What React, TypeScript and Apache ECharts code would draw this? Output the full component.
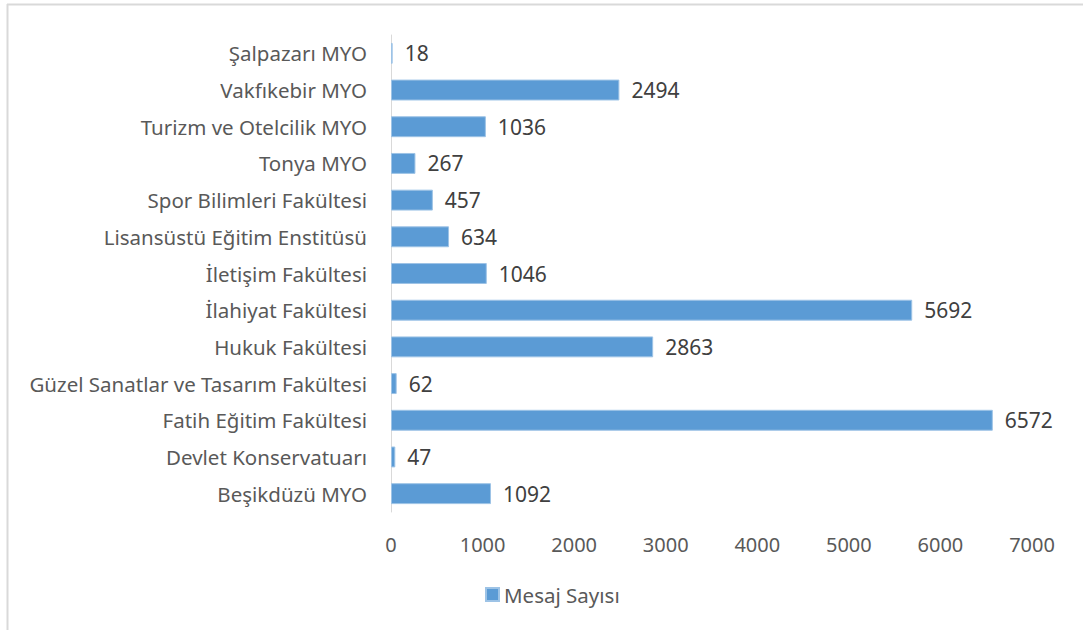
import React, { useEffect, useRef } from "react";
import * as echarts from "echarts";

const categories = [
  "Beşikdüzü MYO",
  "Devlet Konservatuarı",
  "Fatih Eğitim Fakültesi",
  "Güzel Sanatlar ve Tasarım Fakültesi",
  "Hukuk Fakültesi",
  "İlahiyat Fakültesi",
  "İletişim Fakültesi",
  "Lisansüstü Eğitim Enstitüsü",
  "Spor Bilimleri Fakültesi",
  "Tonya MYO",
  "Turizm ve Otelcilik MYO",
  "Vakfıkebir MYO",
  "Şalpazarı MYO",
];
const values = [1092, 47, 6572, 62, 2863, 5692, 1046, 634, 457, 267, 1036, 2494, 18];
const seriesName = "Mesaj Sayısı";

const FONT = "'Noto Sans', sans-serif";

export default function App() {
  const ref = useRef<HTMLDivElement>(null);
  useEffect(() => {
    document.body.style.margin = "0";
    const chart = echarts.init(ref.current!, null, { renderer: "svg" });
    chart.setOption({
      animation: false,
      backgroundColor: "#ffffff",
      textStyle: { fontFamily: FONT },
      graphic: [
        { type: "line", shape: { x1: 7.5, y1: 4, x2: 7.5, y2: 630 }, style: { stroke: "#d9d9d9", lineWidth: 2 } },
        { type: "line", shape: { x1: 7, y1: 4.5, x2: 1083, y2: 4.5 }, style: { stroke: "#d9d9d9", lineWidth: 2 } },
      ],
      legend: {
        bottom: 20,
        left: 480,
        itemWidth: 13,
        itemHeight: 13,
        itemGap: 10,
        icon: "rect",
        textStyle: { fontFamily: FONT, fontSize: 20.5, color: "#595959" },
        data: [seriesName],
      },
      grid: { left: 391, right: 51, top: 35, bottom: 118, containLabel: false },
      xAxis: {
        type: "value",
        min: 0,
        max: 7000,
        interval: 1000,
        splitLine: { show: false },
        axisLine: { show: false },
        axisTick: { show: false },
        axisLabel: {
          color: "#595959",
          fontSize: 20,
          fontFamily: FONT,
          margin: 22,
          formatter: (v: number) => String(v),
        },
      },
      yAxis: {
        type: "category",
        data: categories,
        axisLine: { show: true, lineStyle: { color: "#d9d9d9", width: 1 } },
        axisTick: { show: false },
        axisLabel: { color: "#595959", fontSize: 20.5, fontFamily: FONT, margin: 24 },
      },
      series: [
        {
          name: seriesName,
          type: "bar",
          data: values,
          barCategoryGap: "43%",
          itemStyle: { color: "#5b9bd5", borderColor: "#9dc3e6", borderWidth: 1 },
          label: {
            show: true,
            position: "right",
            distance: 12,
            color: "#404040",
            fontSize: 21,
            fontFamily: FONT,
          },
        },
      ],
    });
    return () => chart.dispose();
  }, []);
  return <div ref={ref} style={{ width: 1083, height: 630 }} />;
}
